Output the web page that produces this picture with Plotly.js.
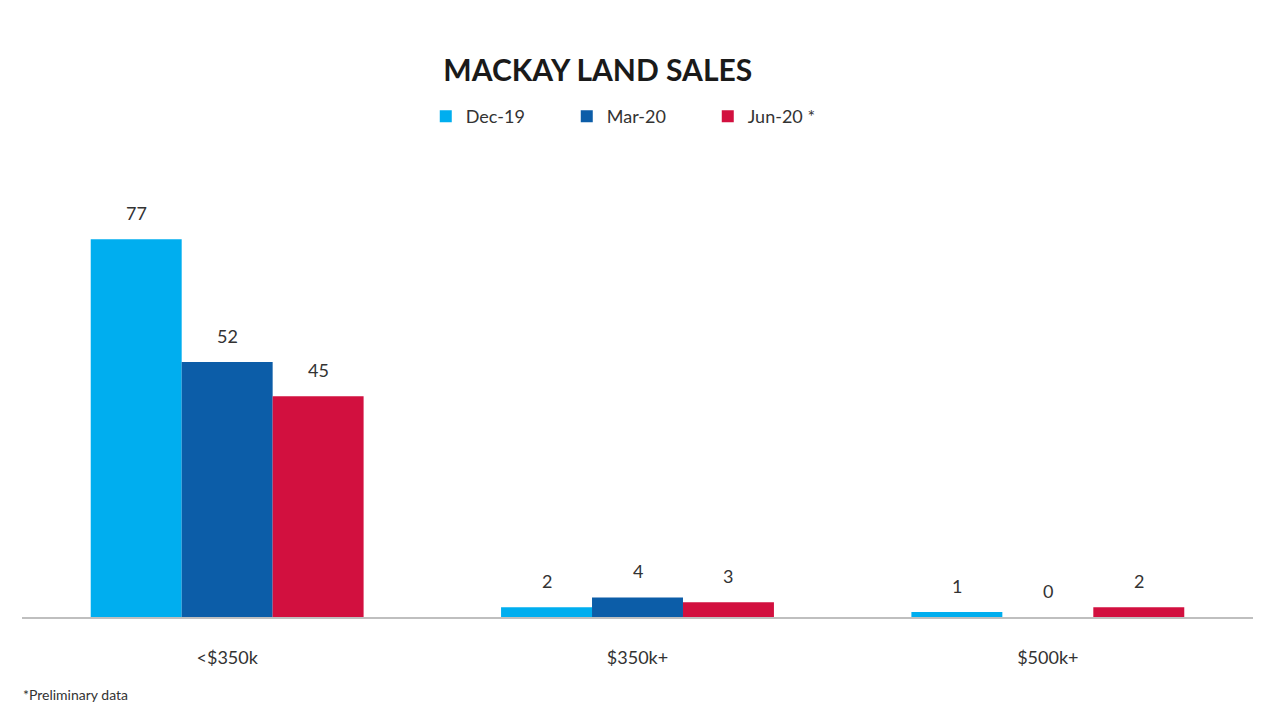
<!DOCTYPE html>
<html>
<head>
<meta charset="utf-8">
<script src="https://cdn.plot.ly/plotly-3.0.1.min.js"></script>
<style>html,body{margin:0;padding:0;background:#fff;}#chart{width:1280px;height:719px;}</style>
</head>
<body>
<div id="chart"></div>
<script>
const categories = ["<$350k", "$350k+", "$500k+"];
const seriesNames = ["Dec-19", "Mar-20", "Jun-20 *"];
const dec19 = [77, 2, 1];
const mar20 = [52, 4, 0];
const jun20 = [45, 3, 2];
const colors = ["#00AEEF", "#0C5DA8", "#D2103F"];

const FONT = "Lato, 'Open Sans', sans-serif";
const W = 1280, H = 719;
const margin = {l: 22, r: 27, t: 200, b: 102};
const bargap = 0.335;

const values = [dec19, mar20, jun20];
const traces = values.map((v, i) => ({
  type: "bar",
  name: seriesNames[i],
  x: categories,
  y: v,
  marker: {color: colors[i]},
  hoverinfo: "x+y+name"
}));

// value labels placed via the axes, offset by the group slot width
const plotW = W - margin.l - margin.r;
const slotPx = plotW / categories.length * (1 - bargap) / values.length;
const annotations = [];
values.forEach((v, i) => {
  v.forEach((val, j) => {
    annotations.push({
      x: categories[j], y: val, xref: "x", yref: "y",
      text: String(val), showarrow: false,
      xshift: (i - (values.length - 1) / 2) * slotPx,
      yanchor: "bottom", yshift: 13,
      font: {family: FONT, size: 18, color: "#333"}
    });
  });
});
annotations.push({text: "*Preliminary data", xref: "paper", yref: "paper", x: -0.001, xanchor: "left",
  y: -0.185, yanchor: "middle", showarrow: false,
  font: {family: FONT, size: 14, color: "#333"}});

const layout = {
  width: W, height: H,
  margin: margin,
  paper_bgcolor: "#fff", plot_bgcolor: "#fff",
  barmode: "group",
  bargap: bargap, bargroupgap: 0,
  title: {text: "<b>MACKAY LAND SALES</b>", x: 0.467, xanchor: "center", y: 0.902, yanchor: "middle",
    font: {family: FONT, size: 30, color: "#1a1a1a"}},
  showlegend: true,
  legend: {orientation: "h", x: 0.328, xanchor: "left", y: 1.2, yanchor: "middle",
    font: {family: FONT, size: 18, color: "#333"},
    entrywidth: 96, entrywidthmode: "pixels", itemwidth: 30, traceorder: "normal"},
  xaxis: {showline: true, linecolor: "#BFBFBF", linewidth: 2, ticks: "outside", ticklen: 23,
    tickcolor: "rgba(0,0,0,0)", tickfont: {family: FONT, size: 18, color: "#333"},
    showgrid: false, zeroline: false},
  yaxis: {range: [0, 85], visible: false, showgrid: false, zeroline: false},
  annotations: annotations
};

Plotly.newPlot("chart", traces, layout, {displayModeBar: false, staticPlot: true});
</script>
</body>
</html>
